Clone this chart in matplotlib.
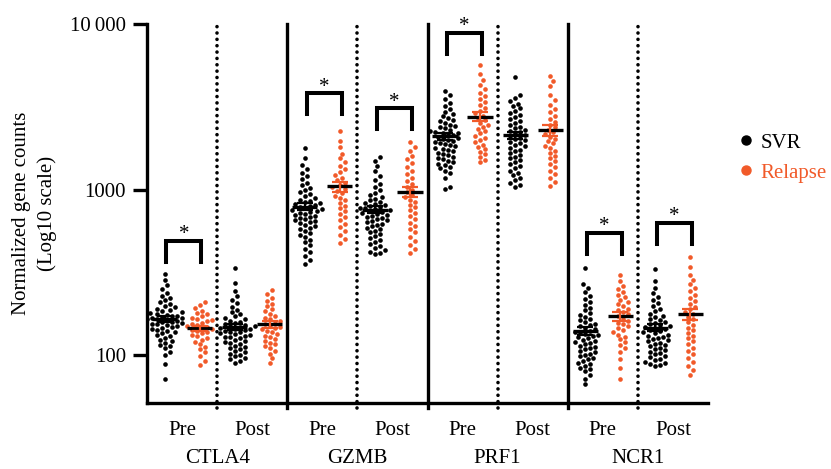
import numpy as np
import matplotlib.pyplot as plt
from matplotlib.lines import Line2D

plt.rcParams['font.family'] = ['Liberation Serif', 'DejaVu Serif']

genes = ['CTLA4', 'GZMB', 'PRF1', 'NCR1']
timepoints = ['Pre', 'Post']
groups = ['SVR', 'Relapse']
colors = {'SVR': '#000000', 'Relapse': '#F15A29'}

# normalized counts (approximate)
ctla4_pre_svr = [310, 285, 265, 250, 238, 228, 220, 214, 208, 203, 198, 194, 190, 187, 184, 181, 179, 177,
                 175, 173, 171, 170, 168, 167, 165, 164, 162, 161, 159, 158, 156, 155, 153, 151, 150, 148,
                 146, 144, 142, 140, 137, 135, 132, 130, 127, 124, 121, 118, 115, 113, 110, 105, 100, 88, 72]
ctla4_pre_rel = [210, 200, 192, 185, 180, 176, 172, 168, 165, 162, 160, 157, 155, 152, 150, 148, 146, 144,
                 142, 140, 138, 135, 132, 130, 127, 124, 120, 116, 112, 108, 104, 98, 92, 87]
ctla4_post_svr = [337, 273, 245, 228, 215, 205, 196, 188, 182, 176, 171, 167, 164, 161, 158, 156, 154, 152,
                  150, 149, 147, 146, 144, 143, 141, 140, 138, 137, 135, 134, 132, 131, 129, 128, 126, 124,
                  122, 120, 118, 116, 114, 112, 110, 108, 106, 104, 102, 100, 98, 96, 94, 92, 90]
ctla4_post_rel = [248, 235, 222, 212, 204, 197, 190, 184, 178, 173, 168, 164, 160, 157, 154, 151, 148, 146,
                  143, 140, 137, 134, 131, 128, 125, 122, 119, 116, 113, 110, 106, 102, 96, 90]

gzmb_pre_svr = [1771, 1560, 1400, 1330, 1260, 1200, 1150, 1100, 1060, 1020, 990, 960, 935, 910, 890, 870,
                855, 840, 828, 816, 805, 795, 785, 775, 765, 755, 745, 735, 725, 715, 705, 695, 685, 675,
                665, 655, 645, 635, 625, 612, 600, 588, 575, 560, 545, 530, 515, 498, 480, 460, 440, 420,
                398, 375, 356]
gzmb_pre_rel = [2248, 1954, 1800, 1650, 1550, 1460, 1390, 1330, 1270, 1220, 1180, 1140, 1100, 1070, 1040,
                1010, 980, 950, 920, 890, 860, 830, 800, 770, 740, 710, 680, 650, 620, 590, 560, 530, 500, 477]
gzmb_post_svr = [1563, 1480, 1390, 1300, 1210, 1140, 1080, 1030, 990, 955, 925, 900, 880, 862, 846, 832,
                 820, 808, 797, 787, 777, 768, 759, 750, 741, 732, 723, 714, 705, 695, 685, 675, 665, 655,
                 645, 634, 623, 612, 600, 588, 576, 563, 550, 537, 524, 510, 496, 482, 468, 455, 442, 430,
                 420, 412, 409]
gzmb_post_rel = [1928, 1800, 1700, 1600, 1520, 1440, 1370, 1300, 1240, 1180, 1130, 1080, 1040, 1000, 965,
                 930, 900, 870, 840, 810, 780, 750, 720, 690, 660, 630, 600, 575, 550, 520, 490, 465, 440, 415]

prf1_pre_svr = [3927, 3700, 3500, 3350, 3200, 3080, 2960, 2860, 2780, 2700, 2640, 2580, 2520, 2470, 2420,
                2380, 2340, 2300, 2270, 2240, 2210, 2180, 2150, 2120, 2090, 2060, 2030, 2000, 1970, 1940,
                1910, 1880, 1850, 1820, 1790, 1760, 1730, 1700, 1670, 1640, 1610, 1580, 1550, 1520, 1490,
                1460, 1430, 1400, 1370, 1340, 1300, 1250, 1180, 1030, 1014]
prf1_pre_rel = [5645, 4975, 4600, 4300, 4050, 3850, 3650, 3500, 3360, 3230, 3110, 3000, 2900, 2800, 2710,
                2620, 2540, 2460, 2390, 2320, 2250, 2180, 2110, 2050, 1990, 1930, 1870, 1810, 1750, 1690,
                1630, 1570, 1510, 1459]
prf1_post_svr = [4775, 3715, 3550, 3420, 3300, 3200, 3100, 3000, 2900, 2820, 2740, 2660, 2590, 2520, 2460,
                 2400, 2350, 2300, 2260, 2220, 2180, 2140, 2100, 2060, 2020, 1980, 1940, 1900, 1860, 1820,
                 1780, 1740, 1700, 1660, 1620, 1580, 1540, 1500, 1460, 1420, 1380, 1340, 1300, 1260, 1220,
                 1180, 1140, 1100, 1060, 1042]
prf1_post_rel = [4840, 4500, 4200, 3700, 3450, 3250, 3080, 2930, 2800, 2680, 2570, 2470, 2380, 2300, 2230,
                 2160, 2090, 2020, 1960, 1900, 1840, 1780, 1720, 1660, 1600, 1540, 1480, 1420, 1360, 1300,
                 1240, 1180, 1110, 1057]

ncr1_pre_svr = [337, 270, 255, 240, 228, 218, 208, 200, 193, 186, 180, 175, 170, 166, 162, 158, 155, 152,
                149, 146, 143, 140, 138, 136, 134, 132, 130, 128, 126, 124, 122, 120, 118, 116, 114, 112,
                110, 108, 106, 104, 102, 100, 98, 96, 94, 92, 90, 88, 86, 84, 82, 80, 76, 72, 67]
ncr1_pre_rel = [305, 280, 262, 250, 240, 231, 223, 216, 209, 203, 197, 191, 186, 181, 176, 171, 166, 161,
                157, 153, 149, 145, 141, 137, 133, 129, 125, 120, 115, 110, 104, 95, 83, 72]
ncr1_post_svr = [332, 280, 255, 238, 225, 214, 205, 197, 190, 184, 178, 173, 169, 165, 162, 159, 156, 153,
                 151, 149, 147, 145, 143, 141, 139, 137, 135, 133, 131, 129, 127, 125, 123, 121, 119, 117,
                 115, 113, 111, 109, 107, 105, 103, 101, 99, 97, 95, 93, 91, 89, 88, 87, 86]
ncr1_post_rel = [393, 340, 305, 285, 268, 254, 242, 231, 221, 212, 204, 196, 189, 182, 176, 170, 164, 158,
                 152, 146, 141, 136, 131, 126, 121, 116, 111, 106, 101, 96, 91, 86, 81, 76]

data = {
    ('CTLA4', 'Pre'): (ctla4_pre_svr, ctla4_pre_rel),
    ('CTLA4', 'Post'): (ctla4_post_svr, ctla4_post_rel),
    ('GZMB', 'Pre'): (gzmb_pre_svr, gzmb_pre_rel),
    ('GZMB', 'Post'): (gzmb_post_svr, gzmb_post_rel),
    ('PRF1', 'Pre'): (prf1_pre_svr, prf1_pre_rel),
    ('PRF1', 'Post'): (prf1_post_svr, prf1_post_rel),
    ('NCR1', 'Pre'): (ncr1_pre_svr, ncr1_pre_rel),
    ('NCR1', 'Post'): (ncr1_post_svr, ncr1_post_rel),
}

# significant comparisons: (gene, timepoint, bracket top)
significant = [('CTLA4', 'Pre', 491), ('GZMB', 'Pre', 3817), ('GZMB', 'Post', 3097),
               ('PRF1', 'Pre', 8820), ('NCR1', 'Pre', 548), ('NCR1', 'Post', 631)]

W, H = 831, 469
fig = plt.figure(figsize=(W / 100, H / 100), dpi=100)
ax_l, ax_r, ax_t, ax_b = 147, 708, 24, 403
ax = fig.add_axes([ax_l / W, 1 - ax_b / H, (ax_r - ax_l) / W, (ax_b - ax_t) / H])
ymin, ymax = 51.3, 10000
ax.set_yscale('log')
ax.set_ylim(ymin, ymax)
ax.set_xlim(0, 16)

px_x = (ax_r - ax_l) / 16.0
px_dec = (ax_b - ax_t) / (np.log10(ymax) - np.log10(ymin))


def swarm_offsets(vals, d=5.0):
    ys = np.log10(np.asarray(vals, float)) * px_dec
    xs = np.zeros(len(ys))
    placed = []
    cands = [0.0]
    for k in range(1, 40):
        cands += [k * d * 0.5, -k * d * 0.5]
    for i in np.argsort(ys):
        for c in cands:
            if all((c - px) ** 2 + (ys[i] - py) ** 2 >= d * d for px, py in placed):
                xs[i] = c
                placed.append((c, ys[i]))
                break
    return xs / px_x


def group_x(gene, tp, grp):
    return genes.index(gene) * 4 + timepoints.index(tp) * 2 + groups.index(grp) + 0.5


for (gene, tp), pair in data.items():
    for grp, vals in zip(groups, pair):
        x0 = group_x(gene, tp, grp)
        vals = np.asarray(vals, float)
        ax.scatter(x0 + swarm_offsets(vals), vals, s=11, color=colors[grp], lw=0, zorder=3)
        m = vals.mean()
        sem = vals.std(ddof=1) / np.sqrt(len(vals))
        ax.errorbar(x0, m, yerr=sem, fmt='none', ecolor=colors[grp], elinewidth=1.6,
                    capsize=5.5, capthick=1.6, zorder=5)
        ax.plot([x0 - 0.36, x0 + 0.36], [m, m], color='black', lw=2.4, zorder=4,
                solid_capstyle='butt')

# panel separators
for g in range(len(genes)):
    if g > 0:
        ax.plot([4 * g, 4 * g], [48, ymax], color='black', lw=2.4, clip_on=False, zorder=2)
    ax.plot([4 * g + 2, 4 * g + 2], [48, ymax], color='black', lw=2.6,
            linestyle=(0, (0.01, 1.75)), dash_capstyle='round', clip_on=False, zorder=2)

# significance brackets
for gene, tp, top in significant:
    xa = group_x(gene, tp, 'SVR') + 0.05
    xb = group_x(gene, tp, 'Relapse') + 0.05
    low = top / 10 ** 0.128
    ax.plot([xa, xa, xb, xb], [low, top, top, low], color='black', lw=2.9,
            solid_joinstyle='miter', zorder=4, clip_on=False)
    ax.annotate('*', xy=((xa + xb) / 2, top), xytext=(0, -2.5), textcoords='offset points',
                ha='center', va='bottom', fontsize=15, annotation_clip=False)

for s in ['top', 'right']:
    ax.spines[s].set_visible(False)
ax.spines['left'].set_linewidth(2.4)
ax.spines['bottom'].set_linewidth(2.4)
ax.spines['left'].set_bounds(ymin, ymax)

ax.set_yticks([100, 1000, 10000])
ax.set_yticklabels(['100', '1000', '10\u2009000'])
ax.yaxis.set_minor_locator(plt.NullLocator())
ax.tick_params(axis='y', length=10, width=2.4, pad=5, labelsize=15, colors='black')
ax.set_xticks([])

trans = ax.get_xaxis_transform()
for g, gene in enumerate(genes):
    for t, tp in enumerate(timepoints):
        ax.text(4 * g + 2 * t + 1, -(435 - ax_b) / (ax_b - ax_t), tp, transform=trans,
                ha='center', va='baseline', fontsize=15)
    ax.text(4 * g + 2, -(463 - ax_b) / (ax_b - ax_t), gene, transform=trans,
            ha='center', va='baseline', fontsize=15)

fig.text(34.5 / W, 1 - 213 / H, 'Normalized gene counts\n(Log10 scale)', rotation=90,
         ha='center', va='center', fontsize=15, linespacing=1.4)

handles = [Line2D([], [], marker='o', ls='', color=colors[g], markersize=6.5) for g in groups]
leg = fig.legend(handles, groups, loc='upper left', bbox_to_anchor=(740 / W, 1 - 133 / H),
                 frameon=False, fontsize=15, handlelength=0.6, handletextpad=0.4,
                 labelspacing=0.5, borderpad=0, borderaxespad=0)
for txt, g in zip(leg.get_texts(), groups):
    txt.set_color(colors[g])

fig.savefig('out.png', dpi=100)
